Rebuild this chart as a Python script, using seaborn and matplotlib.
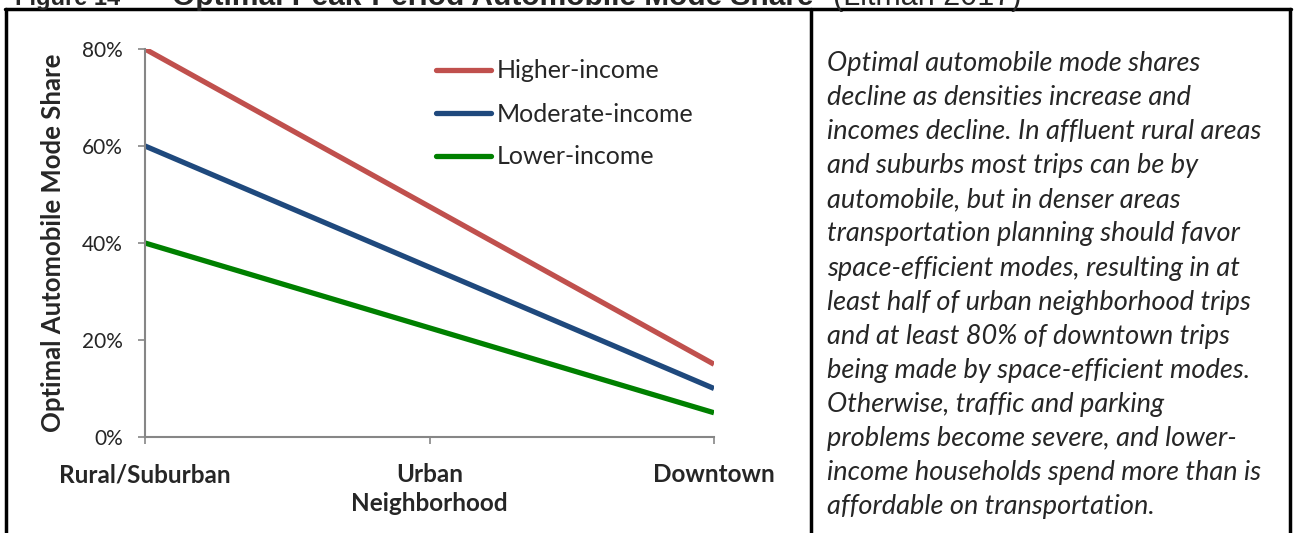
import matplotlib
matplotlib.use("Agg")
import matplotlib.pyplot as plt
import seaborn as sns
import pandas as pd
from matplotlib.lines import Line2D
from matplotlib.ticker import PercentFormatter

# ---- data ----
categories = ["Rural/Suburban", "Urban", "Downtown"]
higher_income = [0.80, 0.475, 0.15]
moderate_income = [0.60, 0.35, 0.10]
lower_income = [0.40, 0.225, 0.05]
series_names = ["Higher-income", "Moderate-income", "Lower-income"]
y_ticks = [0.0, 0.2, 0.4, 0.6, 0.8]

title_fig = "Figure 14"
title_main = "Optimal Peak-Period Automobile Mode Share"
title_src = "(Litman 2017)"
y_label = "Optimal Automobile Mode Share"
x_label = "Neighborhood"
note = ("Optimal automobile mode shares\n"
        "decline as densities increase and\n"
        "incomes decline. In affluent rural areas\n"
        "and suburbs most trips can be by\n"
        "automobile, but in denser areas\n"
        "transportation planning should favor\n"
        "space-efficient modes, resulting in at\n"
        "least half of urban neighborhood trips\n"
        "and at least 80% of downtown trips\n"
        "being made by space-efficient modes.\n"
        "Otherwise, traffic and parking\n"
        "problems become severe, and lower-\n"
        "income households spend more than is\n"
        "affordable on transportation.")

colors = ["#C0504D", "#1F497D", "#008000"]

rows = []
for name, vals in zip(series_names, [higher_income, moderate_income, lower_income]):
    for i, v in enumerate(vals):
        rows.append({"pos": i, "share": v, "series": name})
df = pd.DataFrame(rows)

sns.set_style("white")
plt.rcParams["font.family"] = ["Lato", "DejaVu Sans"]

W, H = 1296, 533
fig = plt.figure(figsize=(W / 100, H / 100), dpi=100)
ax = fig.add_axes([145 / W, 1 - 437 / H, (714 - 145) / W, (437 - 49) / H])

sns.lineplot(data=df, x="pos", y="share", hue="series", hue_order=series_names,
             palette=colors, linewidth=3.8, ax=ax, legend=False,
             solid_capstyle="butt")

ax.set_xlim(0, 2)
ax.set_ylim(0, 0.8)
ax.set_xticks(range(len(categories)))
ax.set_xticklabels(categories, fontweight="bold", fontsize=17.5)
ax.set_yticks(y_ticks)
ax.yaxis.set_major_formatter(PercentFormatter(1.0, decimals=0))
for lab in ax.get_yticklabels():
    lab.set_fontsize(15)
ax.tick_params(axis="both", which="both", direction="out", length=5, width=1.2,
               color="#868686", left=True, bottom=True)
ax.tick_params(axis="x", pad=14)
ax.tick_params(axis="y", pad=11)
for s in ["top", "right"]:
    ax.spines[s].set_visible(False)
for s in ["left", "bottom"]:
    ax.spines[s].set_color("#868686")
    ax.spines[s].set_linewidth(1.5)
ax.set_xlabel(x_label, fontweight="bold", fontsize=17.5, labelpad=4)
ax.set_ylabel(y_label, fontweight="bold", fontsize=18.5, labelpad=12)

handles = [Line2D([0], [0], color=c, lw=3.8, solid_capstyle="round") for c in colors]
fig.legend(handles, series_names, loc="upper left",
           bbox_to_anchor=(436 / W, 1 - 59.5 / H), frameon=False,
           fontsize=18, handlelength=2.2, handletextpad=0.24,
           labelspacing=0.8, borderaxespad=0, borderpad=0)

# frame lines
lw = 2.5
fig.add_artist(Line2D([6 / W, 6 / W], [0, 1 - 9 / H], color="black", lw=lw, transform=fig.transFigure))
fig.add_artist(Line2D([1290 / W, 1290 / W], [0, 1 - 9 / H], color="black", lw=lw, transform=fig.transFigure))
fig.add_artist(Line2D([811 / W, 811 / W], [0, 1 - 9 / H], color="black", lw=lw, transform=fig.transFigure))
fig.add_artist(Line2D([5 / W, 1291 / W], [1 - 9 / H, 1 - 9 / H], color="black", lw=lw, transform=fig.transFigure))

# title (cropped at the top, like the reference)
fig.text(15 / W, 1 - 5 / H, title_fig, fontsize=17, fontweight="bold",
         family=["Liberation Sans", "DejaVu Sans"], va="baseline", ha="left")
fig.text(172 / W, 1 - 5 / H, title_main, fontsize=21.5, fontweight="bold",
         family=["Liberation Sans", "DejaVu Sans"], va="baseline", ha="left")
fig.text(833 / W, 1 - 5 / H, title_src, fontsize=22,
         family=["Liberation Sans", "DejaVu Sans"], va="baseline", ha="left")

# note text
fig.text(827 / W, 1 - 51 / H, note, fontsize=19.5, fontstyle="italic",
         va="top", ha="left", linespacing=1.455)

fig.savefig("out.png", dpi=100)
